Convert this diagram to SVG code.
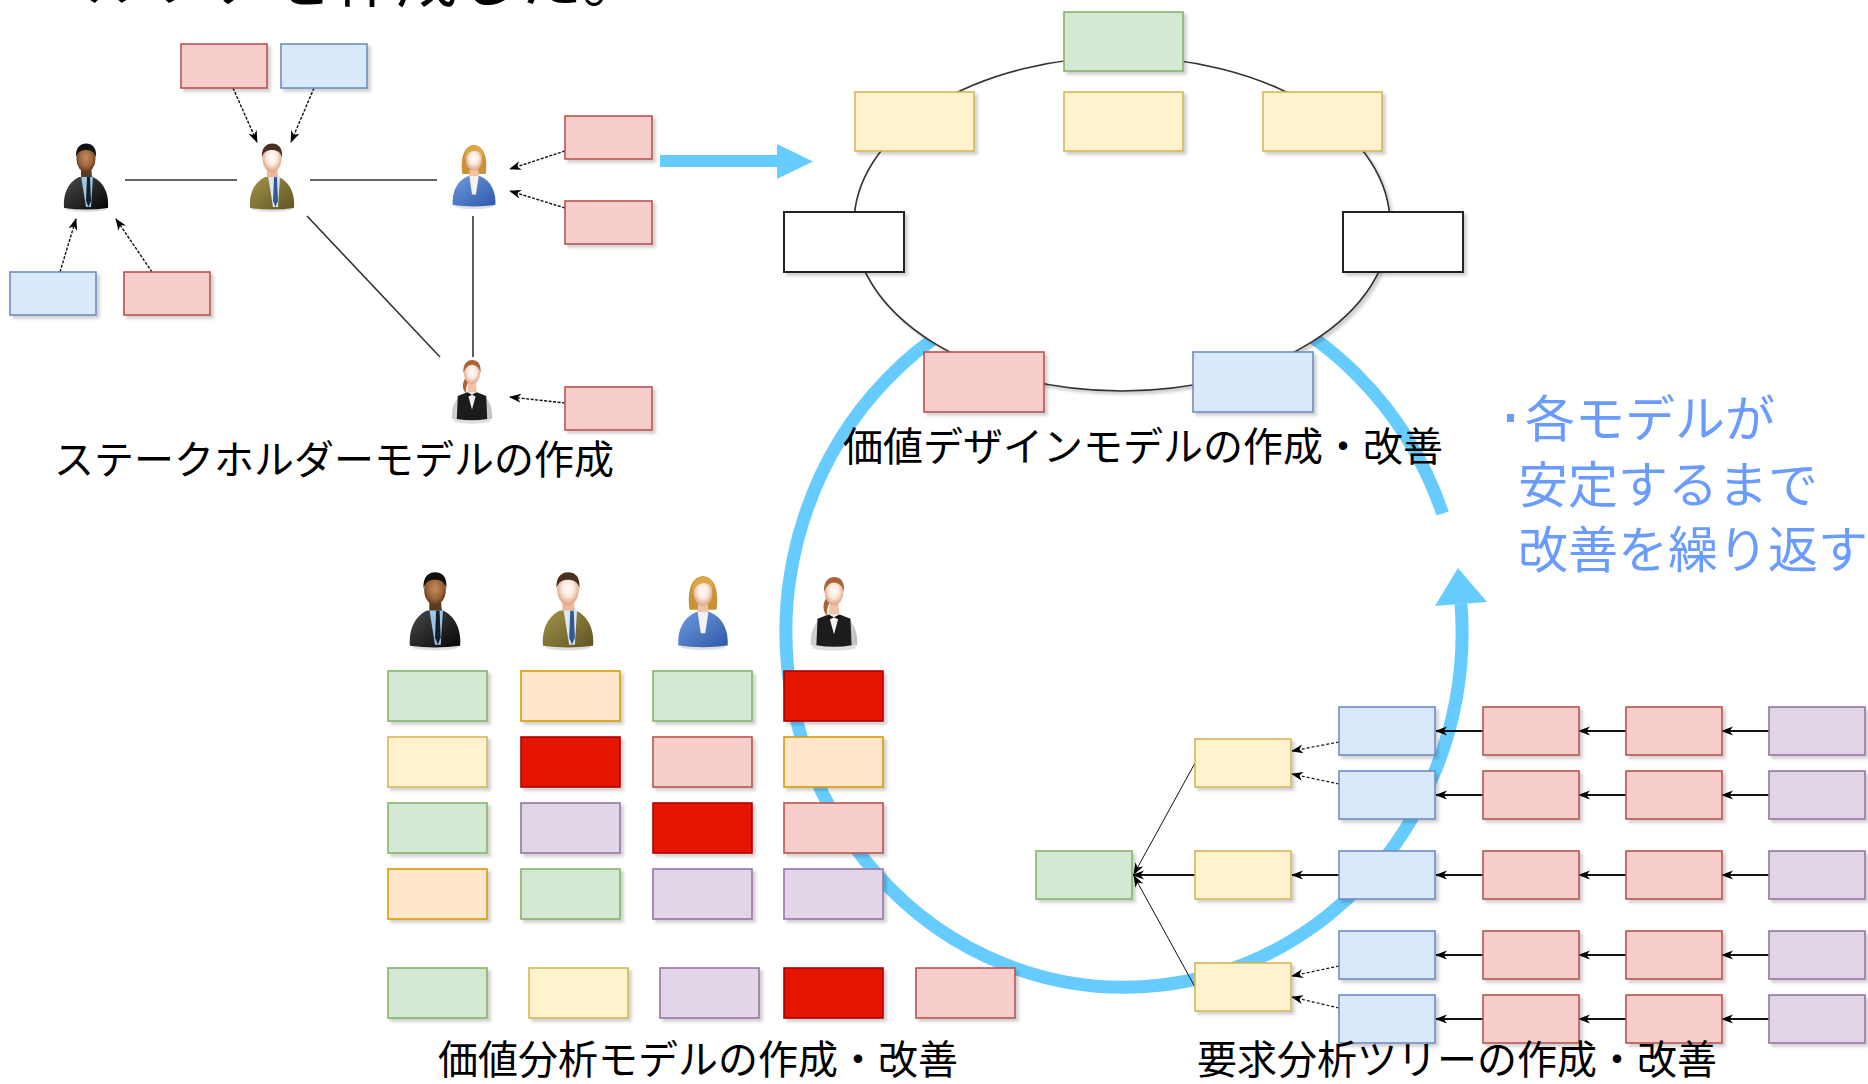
<svg xmlns="http://www.w3.org/2000/svg" xmlns:xlink="http://www.w3.org/1999/xlink" width="1868" height="1084" viewBox="0 0 1868 1084">
  <style>
    .box{stroke-width:1.6;filter:url(#sh)}
    .pk{fill:#F8CECC;stroke:#B85450}
    .bl{fill:#DAE8FC;stroke:#6C8EBF}
    .gr{fill:#D5E8D4;stroke:#82B366}
    .ye{fill:#FFF2CC;stroke:#D6B656}
    .or{fill:#FFE6CC;stroke:#D79B00}
    .pu{fill:#E1D5E7;stroke:#9673A6}
    .rd{fill:#E51400;stroke:#B20000}
    .wh{fill:#FFFFFF;stroke:#222;stroke-width:2}
    .lbl{font-family:"Noto Sans CJK JP","Noto Sans",sans-serif;font-size:40px;fill:#000}
    .note{font-family:"Noto Sans CJK JP","Noto Sans",sans-serif;font-size:50px;fill:#6A9BFF}
    .rel{stroke:#333;stroke-width:1.6;fill:none}
    .dep{stroke:#111;stroke-width:1.4;fill:none;stroke-dasharray:3 1.5;marker-end:url(#ah)}
    .flow{stroke:#111;stroke-width:2;fill:none;marker-end:url(#ah)}
    .thin{stroke:#111;stroke-width:1;fill:none;marker-end:url(#ah)}
    .dot{stroke:#111;stroke-width:1.2;fill:none;stroke-dasharray:3 2;marker-end:url(#ah)}
  </style>
  <defs>
    <filter id="sh" x="-10%" y="-10%" width="130%" height="140%">
      <feDropShadow dx="3" dy="3" stdDeviation="1.6" flood-color="#000" flood-opacity="0.18"/>
    </filter>
    <marker id="ah" viewBox="0 0 12 10" refX="11" refY="5" markerWidth="12" markerHeight="10" markerUnits="userSpaceOnUse" orient="auto">
      <path d="M0,0.5 L12,5 L0,9.5 L3.5,5 Z" fill="#000"/>
    </marker>
    <radialGradient id="skinL" cx="0.5" cy="0.45" r="0.6">
      <stop offset="0" stop-color="#ffffff"/>
      <stop offset="0.45" stop-color="#fbe9de"/>
      <stop offset="1" stop-color="#d9956f"/>
    </radialGradient>
    <radialGradient id="skinD" cx="0.5" cy="0.45" r="0.6">
      <stop offset="0" stop-color="#c48c5c"/>
      <stop offset="0.6" stop-color="#9a6238"/>
      <stop offset="1" stop-color="#4e2e18"/>
    </radialGradient>
    <linearGradient id="suitK" x1="0" y1="0" x2="1" y2="1">
      <stop offset="0" stop-color="#4a4a4a"/>
      <stop offset="1" stop-color="#050505"/>
    </linearGradient>
    <linearGradient id="suitO" x1="0" y1="0" x2="1" y2="1">
      <stop offset="0" stop-color="#a39449"/>
      <stop offset="1" stop-color="#5f5424"/>
    </linearGradient>
    <linearGradient id="suitB" x1="0" y1="0" x2="1" y2="1">
      <stop offset="0" stop-color="#6f9ae0"/>
      <stop offset="1" stop-color="#2d5aa8"/>
    </linearGradient>
    <linearGradient id="shirtW" x1="0" y1="0" x2="1" y2="0">
      <stop offset="0" stop-color="#c9c9c9"/>
      <stop offset="0.5" stop-color="#f4f4f4"/>
      <stop offset="1" stop-color="#bdbdbd"/>
    </linearGradient>

    <!-- man in black suit -->
    <g id="manK">
      <ellipse cx="0" cy="64" rx="20" ry="3" fill="#000" opacity="0.12"/>
      <path d="M-22,63 C-23,50 -19,38 -7,32 L7,32 C19,38 23,50 22,63 Q0,66 -22,63 Z" fill="url(#suitK)"/>
      <path d="M-5,31 L7,31 L5,62 L0,62 Z" fill="#9cc6e8"/>
      <path d="M1,32 L4,32 L5,56 L2.5,62 L0,56 Z" fill="#14202c"/>
      <path d="M-5,21 L5,21 L6,32 L-5,32 Z" fill="#5b3a22"/>
      <ellipse cx="0" cy="14" rx="9.5" ry="13" fill="url(#skinD)"/>
      <path d="M-10,13 C-11,2 -5,-1.5 0,-1.5 C6,-1.5 11,2 10,13 C9,7 5,5 0,5 C-5,5 -9,7 -10,13 Z" fill="#111"/>
    </g>
    <!-- man in olive suit -->
    <g id="manO">
      <ellipse cx="0" cy="64" rx="20" ry="3" fill="#000" opacity="0.12"/>
      <path d="M-22,63 C-23,50 -19,38 -7,32 L7,32 C19,38 23,50 22,63 Q0,66 -22,63 Z" fill="url(#suitO)"/>
      <path d="M-4,31 L8,31 L6,62 L1,62 Z" fill="#dfe7ee"/>
      <path d="M2,32 L5,32 L6,56 L3.5,62 L1,56 Z" fill="#2f5a9a"/>
      <path d="M-5,21 L5,21 L6,32 L-5,32 Z" fill="#e9b999"/>
      <ellipse cx="0" cy="14" rx="9.5" ry="13" fill="url(#skinL)"/>
      <path d="M-10,13 C-11,2 -5,-1.5 0,-1.5 C6,-1.5 11,2 10,13 C9,7 5,5 0,5 C-5,5 -9,7 -10,13 Z" fill="#4a3020"/>
    </g>
    <!-- woman in blue jacket -->
    <g id="womanB">
      <ellipse cx="0" cy="64" rx="20" ry="3" fill="#000" opacity="0.12"/>
      <path d="M-12,31 C-14,18 -12,2 0,1 C12,2 14,18 12,31 Z" fill="#c99235"/>
      <path d="M-22,63 C-23,50 -18,38 -6,33 L6,33 C18,38 23,50 22,63 Q0,66 -22,63 Z" fill="url(#suitB)"/>
      <path d="M-5,32 L5,32 L2,52 L-2,52 Z" fill="#f2f2f2"/>
      <path d="M-4,22 L4,22 L5,33 L-5,33 Z" fill="#efc3a6"/>
      <ellipse cx="0" cy="16" rx="8.5" ry="11.5" fill="url(#skinL)"/>
      <path d="M-9.5,18 C-10,5 -4,1.5 0,1.5 C6,1.5 10,5 9.5,14 C7,8 3,6.5 -2,7.5 C-6,8.5 -8.5,13 -9.5,18 Z" fill="#dca846"/>
    </g>
    <!-- waitress with vest -->
    <g id="womanW">
      <ellipse cx="0" cy="64" rx="20" ry="3" fill="#000" opacity="0.12"/>
      <path d="M-21,62 C-22,49 -17,38 -6,34 L6,34 C17,38 22,49 21,62 Q0,65 -21,62 Z" fill="url(#shirtW)"/>
      <path d="M-15,38 L-5,34 L0,52 L5,34 L15,38 L16,62 Q0,65 -16,62 Z" fill="#1c1c1c"/>
      <path d="M-4,23 L4,23 L5,34 L-5,34 Z" fill="#efc3a6"/>
      <path d="M-5,34 L0,36.5 L5,34 L5,39 L0,36.5 L-5,39 Z" fill="#111"/>
      <path d="M-7,19 C-11,25 -10,32 -6,35 C-7,30 -5,25 -3,21 Z" fill="#a8643a"/>
      <ellipse cx="0" cy="14" rx="8.5" ry="11.5" fill="url(#skinL)"/>
      <path d="M-9,14 C-10,3 -4,0 0,0 C6,0 10,4 9,14 C8,8 4,5 0,5 C-4,5 -7,8 -9,14 Z" fill="#a8643a"/>
    </g>
  </defs>

  <rect width="1868" height="1084" fill="#FFFFFF"/>

  <!-- heading line running off the top edge -->
  <text id="heading" x="24" y="2" font-family="'Noto Sans CJK JP',sans-serif" font-size="62" fill="#000">ペルソナを作成した。</text>

  <!-- improvement cycle arrow (drawn first so everything sits on top of it) -->
  <g id="cycle">
    <path d="M1442.6,513.5 A338,355 0 1 0 1461,604" fill="none" stroke="#66CCFF" stroke-width="13"/>
    <polygon points="1435,606 1458,568 1487,602" fill="#66CCFF"/>
  </g>

  <!-- ===== stakeholder model ===== -->
  <g id="stakeholder-connectors">
    <line class="rel" x1="125" y1="180" x2="237" y2="180"/>
    <line class="rel" x1="310" y1="180" x2="437" y2="180"/>
    <line class="rel" x1="307" y1="216" x2="440" y2="357" stroke-width="1.3"/>
    <line class="rel" x1="473" y1="216" x2="473" y2="357"/>
    <line class="dep" x1="233" y1="88" x2="257" y2="142"/>
    <line class="dep" x1="314" y1="88" x2="291" y2="142"/>
    <line class="dep" x1="60" y1="272" x2="76" y2="219"/>
    <line class="dep" x1="152" y1="272" x2="116" y2="219"/>
    <line class="dep" x1="565" y1="151" x2="510" y2="169"/>
    <line class="dep" x1="565" y1="208" x2="510" y2="191"/>
    <line class="dep" x1="565" y1="403" x2="510" y2="397"/>
  </g>
  <g id="sh-person-1"><use xlink:href="#manK" transform="translate(86,145)"/></g>
  <g id="sh-person-2"><use xlink:href="#manO" transform="translate(272,145)"/></g>
  <g id="sh-person-3"><use xlink:href="#womanB" transform="translate(474,144) scale(0.97)"/></g>
  <g id="sh-person-4"><use xlink:href="#womanW" transform="translate(472,360) scale(0.95)"/></g>
  <g id="sh-note-1"><rect class="box pk" x="181" y="44" width="86" height="44"/></g>
  <g id="sh-note-2"><rect class="box bl" x="281" y="44" width="86" height="44"/></g>
  <g id="sh-note-3"><rect class="box pk" x="565" y="116" width="87" height="43"/></g>
  <g id="sh-note-4"><rect class="box pk" x="565" y="201" width="87" height="43"/></g>
  <g id="sh-note-5"><rect class="box pk" x="565" y="387" width="87" height="43"/></g>
  <g id="sh-note-6"><rect class="box bl" x="10" y="272" width="86" height="43"/></g>
  <g id="sh-note-7"><rect class="box pk" x="124" y="272" width="86" height="43"/></g>
  <text class="lbl" x="54" y="474">ステークホルダーモデルの作成</text>

  <!-- hand-off arrow -->
  <g id="handoff">
    <polygon points="660,155 777,155 777,144 813,161.5 777,179 777,167 660,167" fill="#66CCFF"/>
  </g>

  <!-- ===== value design model ===== -->
  <g id="vd-ring">
    <ellipse cx="1122" cy="224" rx="268" ry="167" fill="#FFFFFF" stroke="#333" stroke-width="1.6" filter="url(#sh)"/>
  </g>
  <g id="vd-top"><rect class="box gr" x="1064" y="12" width="119" height="59"/></g>
  <g id="vd-y1"><rect class="box ye" x="855" y="92" width="119" height="59"/></g>
  <g id="vd-y2"><rect class="box ye" x="1064" y="92" width="119" height="59"/></g>
  <g id="vd-y3"><rect class="box ye" x="1263" y="92" width="119" height="59"/></g>
  <g id="vd-w1"><rect class="box wh" x="784" y="212" width="120" height="60"/></g>
  <g id="vd-w2"><rect class="box wh" x="1343" y="212" width="120" height="60"/></g>
  <g id="vd-p1"><rect class="box pk" x="924" y="352" width="120" height="60"/></g>
  <g id="vd-b1"><rect class="box bl" x="1193" y="352" width="120" height="60"/></g>
  <text class="lbl" x="843" y="461">価値デザインモデルの作成・改善</text>

  <!-- ===== value analysis model ===== -->
  <g id="va-person-1"><use xlink:href="#manK" transform="translate(435,574) scale(1.14)"/></g>
  <g id="va-person-2"><use xlink:href="#manO" transform="translate(568,574) scale(1.14)"/></g>
  <g id="va-person-3"><use xlink:href="#womanB" transform="translate(703,575) scale(1.12)"/></g>
  <g id="va-person-4"><use xlink:href="#womanW" transform="translate(834,577) scale(1.1)"/></g>
  <g id="va-r1c1"><rect class="box gr" x="388" y="671" width="99" height="50"/></g>
  <g id="va-r1c2"><rect class="box or" x="521" y="671" width="99" height="50"/></g>
  <g id="va-r1c3"><rect class="box gr" x="653" y="671" width="99" height="50"/></g>
  <g id="va-r1c4"><rect class="box rd" x="784" y="671" width="99" height="50"/></g>
  <g id="va-r2c1"><rect class="box ye" x="388" y="737" width="99" height="50"/></g>
  <g id="va-r2c2"><rect class="box rd" x="521" y="737" width="99" height="50"/></g>
  <g id="va-r2c3"><rect class="box pk" x="653" y="737" width="99" height="50"/></g>
  <g id="va-r2c4"><rect class="box or" x="784" y="737" width="99" height="50"/></g>
  <g id="va-r3c1"><rect class="box gr" x="388" y="803" width="99" height="50"/></g>
  <g id="va-r3c2"><rect class="box pu" x="521" y="803" width="99" height="50"/></g>
  <g id="va-r3c3"><rect class="box rd" x="653" y="803" width="99" height="50"/></g>
  <g id="va-r3c4"><rect class="box pk" x="784" y="803" width="99" height="50"/></g>
  <g id="va-r4c1"><rect class="box or" x="388" y="869" width="99" height="50"/></g>
  <g id="va-r4c2"><rect class="box gr" x="521" y="869" width="99" height="50"/></g>
  <g id="va-r4c3"><rect class="box pu" x="653" y="869" width="99" height="50"/></g>
  <g id="va-r4c4"><rect class="box pu" x="784" y="869" width="99" height="50"/></g>
  <g id="va-k1"><rect class="box gr" x="388" y="968" width="99" height="50"/></g>
  <g id="va-k2"><rect class="box ye" x="529" y="968" width="99" height="50"/></g>
  <g id="va-k3"><rect class="box pu" x="660" y="968" width="99" height="50"/></g>
  <g id="va-k4"><rect class="box rd" x="784" y="968" width="99" height="50"/></g>
  <g id="va-k5"><rect class="box pk" x="916" y="968" width="99" height="50"/></g>
  <text class="lbl" x="438" y="1074">価値分析モデルの作成・改善</text>

  <!-- ===== requirement analysis tree ===== -->
  <g id="rt-connectors">
    <line class="flow" x1="1769" y1="731" x2="1722" y2="731"/>
    <line class="flow" x1="1626" y1="731" x2="1579" y2="731"/>
    <line class="flow" x1="1483" y1="731" x2="1436" y2="731"/>
    <line class="flow" x1="1769" y1="795" x2="1722" y2="795"/>
    <line class="flow" x1="1626" y1="795" x2="1579" y2="795"/>
    <line class="flow" x1="1483" y1="795" x2="1436" y2="795"/>
    <line class="flow" x1="1769" y1="875" x2="1722" y2="875"/>
    <line class="flow" x1="1626" y1="875" x2="1579" y2="875"/>
    <line class="flow" x1="1483" y1="875" x2="1436" y2="875"/>
    <line class="flow" x1="1769" y1="955" x2="1722" y2="955"/>
    <line class="flow" x1="1626" y1="955" x2="1579" y2="955"/>
    <line class="flow" x1="1483" y1="955" x2="1436" y2="955"/>
    <line class="flow" x1="1769" y1="1019" x2="1722" y2="1019"/>
    <line class="flow" x1="1626" y1="1019" x2="1579" y2="1019"/>
    <line class="flow" x1="1483" y1="1019" x2="1436" y2="1019"/>
    <line class="flow" x1="1339" y1="875" x2="1292" y2="875"/>
    <line class="flow" x1="1195" y1="875" x2="1133" y2="875"/>
    <line class="thin" x1="1195" y1="763" x2="1134" y2="874"/>
    <line class="thin" x1="1195" y1="987" x2="1134" y2="876"/>
    <line class="dot" x1="1339" y1="742" x2="1292" y2="751"/>
    <line class="dot" x1="1339" y1="784" x2="1292" y2="774"/>
    <line class="dot" x1="1339" y1="966" x2="1292" y2="976"/>
    <line class="dot" x1="1339" y1="1008" x2="1292" y2="997"/>
  </g>
  <g id="rt-root"><rect class="box gr" x="1036" y="851" width="96" height="48"/></g>
  <g id="rt-y1"><rect class="box ye" x="1195" y="739" width="96" height="48"/></g>
  <g id="rt-y2"><rect class="box ye" x="1195" y="851" width="96" height="48"/></g>
  <g id="rt-y3"><rect class="box ye" x="1195" y="963" width="96" height="48"/></g>
  <g id="rt-b1"><rect class="box bl" x="1339" y="707" width="96" height="48"/></g>
  <g id="rt-b2"><rect class="box bl" x="1339" y="771" width="96" height="48"/></g>
  <g id="rt-b3"><rect class="box bl" x="1339" y="851" width="96" height="48"/></g>
  <g id="rt-b4"><rect class="box bl" x="1339" y="931" width="96" height="48"/></g>
  <g id="rt-b5"><rect class="box bl" x="1339" y="995" width="96" height="48"/></g>
  <g id="rt-r1a"><rect class="box pk" x="1483" y="707" width="96" height="48"/></g>
  <g id="rt-r2a"><rect class="box pk" x="1483" y="771" width="96" height="48"/></g>
  <g id="rt-r3a"><rect class="box pk" x="1483" y="851" width="96" height="48"/></g>
  <g id="rt-r4a"><rect class="box pk" x="1483" y="931" width="96" height="48"/></g>
  <g id="rt-r5a"><rect class="box pk" x="1483" y="995" width="96" height="48"/></g>
  <g id="rt-r1b"><rect class="box pk" x="1626" y="707" width="96" height="48"/></g>
  <g id="rt-r2b"><rect class="box pk" x="1626" y="771" width="96" height="48"/></g>
  <g id="rt-r3b"><rect class="box pk" x="1626" y="851" width="96" height="48"/></g>
  <g id="rt-r4b"><rect class="box pk" x="1626" y="931" width="96" height="48"/></g>
  <g id="rt-r5b"><rect class="box pk" x="1626" y="995" width="96" height="48"/></g>
  <g id="rt-v1"><rect class="box pu" x="1769" y="707" width="96" height="48"/></g>
  <g id="rt-v2"><rect class="box pu" x="1769" y="771" width="96" height="48"/></g>
  <g id="rt-v3"><rect class="box pu" x="1769" y="851" width="96" height="48"/></g>
  <g id="rt-v4"><rect class="box pu" x="1769" y="931" width="96" height="48"/></g>
  <g id="rt-v5"><rect class="box pu" x="1769" y="995" width="96" height="48"/></g>
  <text class="lbl" x="1197" y="1074">要求分析ツリーの作成・改善</text>

  <!-- cycle note -->
  <g id="cycle-note">
    <rect x="1507" y="414" width="7" height="8" fill="#6A9BFF"/>
    <text class="note" x="1525" y="437">各モデルが</text>
    <text class="note" x="1518" y="503">安定するまで</text>
    <text class="note" x="1518" y="568">改善を繰り返す</text>
  </g>
</svg>
